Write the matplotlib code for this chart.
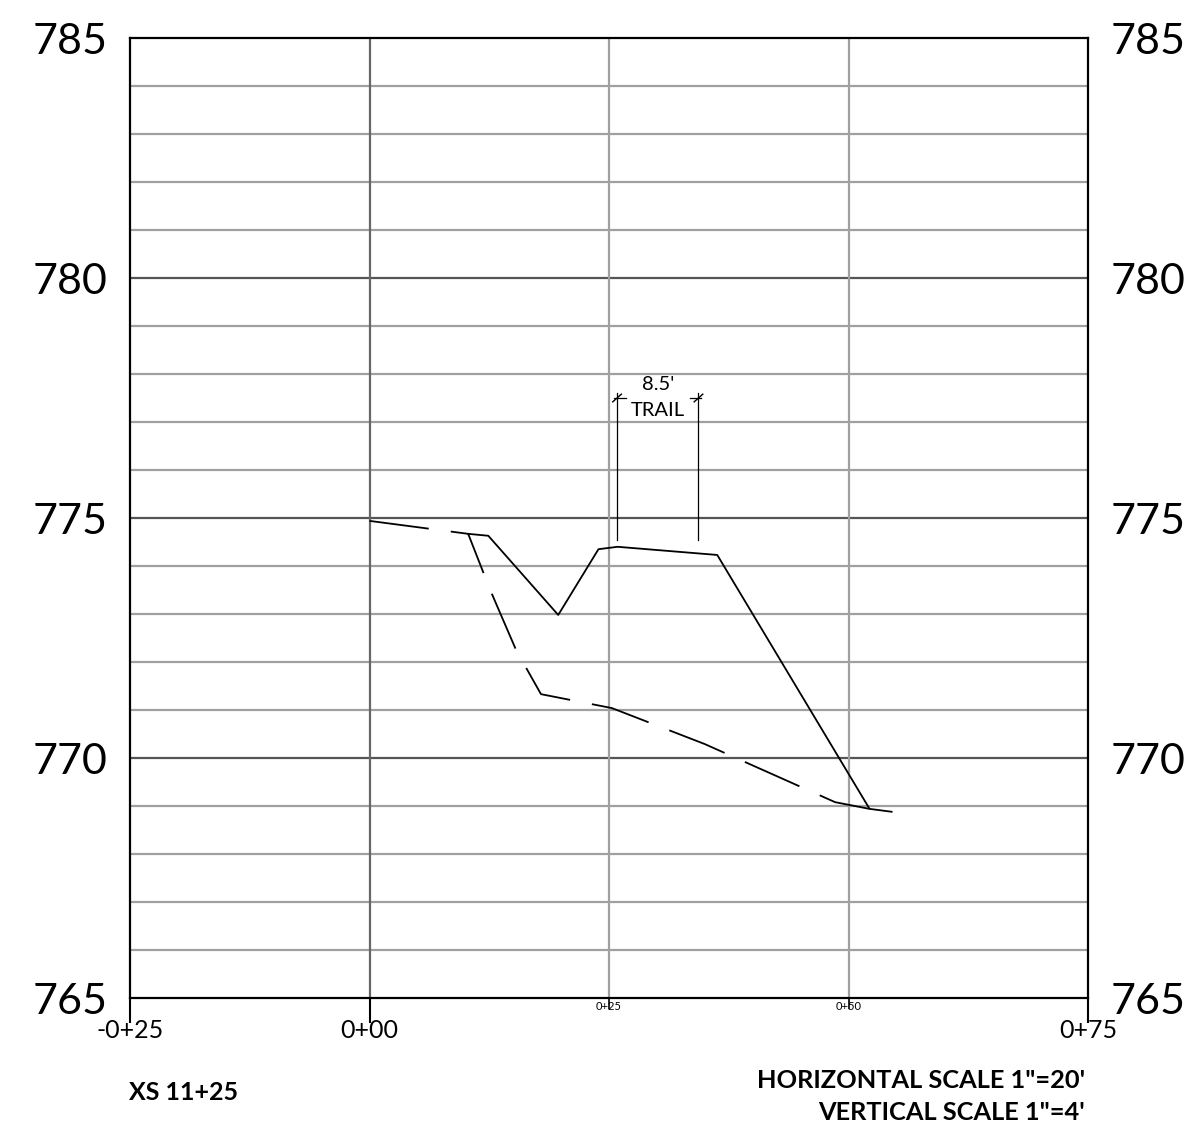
import matplotlib.pyplot as plt
import numpy as np

plt.rcParams['font.family'] = ['Lato', 'DejaVu Sans']
plt.rcParams['lines.scale_dashes'] = False

# existing ground (dashed) and proposed grade (solid), station ft vs elevation ft
exist_x = [0.0, 10.3, 12.6, 15.3, 17.9, 25.3, 35.0, 48.6, 52.2]
exist_y = [774.94, 774.67, 773.5, 772.25, 771.33, 771.04, 770.29, 769.08, 768.94]
prop_x = [10.3, 12.4, 19.7, 23.9, 25.9, 36.3, 52.2, 54.5]
prop_y = [774.67, 774.63, 772.98, 774.35, 774.40, 774.23, 768.94, 768.88]

trail_x = [25.84, 34.34]
trail_top = 777.6
trail_bot = 774.55

y_ticks = [765, 770, 775, 780, 785]
x_major = [-25, 0, 75]
x_major_lbl = ['-0+25', '0+00', '0+75']
x_minor = [25, 50]
x_minor_lbl = ['0+25', '0+50']

fig = plt.figure(figsize=(11.96, 11.35), dpi=100)
ax = fig.add_axes([130/1196, 1 - 998/1135, 958/1196, 960/1135])
ax.set_xlim(-25, 75)
ax.set_ylim(765, 785)

# grid
for v in range(766, 785):
    if v % 5 == 0:
        ax.axhline(v, color='#555555', lw=1.6, zorder=1)
    else:
        ax.axhline(v, color='#a0a0a0', lw=1.6, zorder=1)
ax.axvline(0, color='#666666', lw=1.6, zorder=1)
for v in x_minor:
    ax.axvline(v, color='#a0a0a0', lw=1.6, zorder=1)

# ground lines
ax.plot(exist_x, exist_y, color='black', lw=1.3, dashes=(43, 16), zorder=3)
ax.plot(prop_x, prop_y, color='black', lw=1.3, zorder=3)

# trail dimension
for i, tx in enumerate(trail_x):
    ax.plot([tx, tx], [trail_bot, trail_top], color='black', lw=0.9, zorder=3)
    d = 1 if i == 0 else -1
    ax.plot([tx - 0.3 * d, tx + 0.9 * d], [777.5, 777.5], color='black', lw=0.9, zorder=3)
    ax.plot([tx - 0.45, tx + 0.45], [777.42, 777.58], color='black', lw=1.0, zorder=3)
mid = sum(trail_x) / 2
ax.text(mid, 777.78, "8.5'", ha='center', va='center', fontsize=14.5)
ax.text(mid, 777.24, 'TRAIL', ha='center', va='center', fontsize=14.5)

# ticks
ax.set_yticks(y_ticks)
ax.tick_params(axis='y', which='both', length=0, labelsize=31, pad=16,
               labelleft=True, labelright=True)
ax.set_xticks(x_major)
ax.set_xticklabels(x_major_lbl)
ax.set_xticks(x_minor, minor=True)
ax.set_xticklabels(x_minor_lbl, minor=True)
ax.tick_params(axis='x', which='major', length=18, width=1.5, labelsize=18, pad=-3, direction='out')
ax.tick_params(axis='x', which='minor', length=8, width=1.2, labelsize=8, pad=-6, direction='out')

for s in ax.spines.values():
    s.set_color('black')
    s.set_linewidth(1.6)

fig.text(184/1196, 1 - 1093/1135, 'XS 11+25', ha='center', va='center',
         fontsize=18, fontweight='bold')
fig.text(1085/1196, 1 - 1081/1135, 'HORIZONTAL SCALE 1"=20\'', ha='right', va='center',
         fontsize=18.3, fontweight='bold')
fig.text(1085/1196, 1 - 1113/1135, 'VERTICAL SCALE 1"=4\'', ha='right', va='center',
         fontsize=18.3, fontweight='bold')

fig.savefig('out.png', dpi=100)
